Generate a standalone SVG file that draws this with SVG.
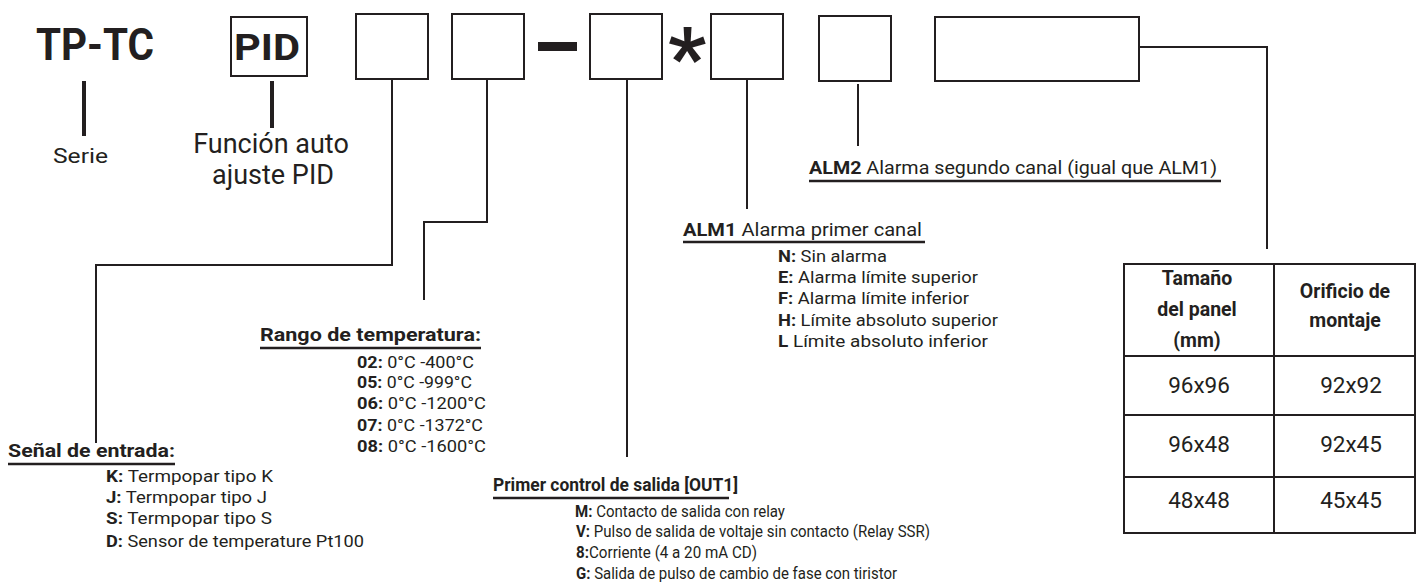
<svg xmlns="http://www.w3.org/2000/svg" width="1416" height="583" viewBox="0 0 1416 583">
<style>
text{font-family:Roboto,"Liberation Sans",sans-serif;fill:#231f20}
.b{font-weight:bold}
.box{fill:#fff;stroke:#231f20;stroke-width:2}
.ln{fill:none;stroke:#231f20;stroke-width:2}
.thick{fill:none;stroke:#231f20;stroke-width:4}
.ul{stroke:#231f20;stroke-width:2.5}
.it{font-size:16.5px}
.hd{font-size:19px;font-weight:bold}
.th{font-size:19.5px;font-weight:bold;text-anchor:middle}
.td{font-size:22.5px;text-anchor:middle}
</style>
<rect width="1416" height="583" fill="#fff"/>
<g id="series">
<text x="36" y="60" class="b" font-size="45" textLength="118" lengthAdjust="spacingAndGlyphs">TP-TC</text>
<text x="53" y="163" font-size="20" textLength="55" lengthAdjust="spacingAndGlyphs">Serie</text>
</g>
<g id="pid">
<rect class="box" x="231" y="17" width="76" height="59"/>
<text x="234" y="60" class="b" font-size="36" textLength="66" lengthAdjust="spacingAndGlyphs">PID</text>
<text x="271" y="153" font-size="27" text-anchor="middle">Función auto</text>
<text x="273" y="184" font-size="27" text-anchor="middle">ajuste PID</text>
</g>
<g id="box-input"><rect class="box" x="356" y="14" width="72" height="65"/></g>
<g id="box-range"><rect class="box" x="452" y="14" width="72" height="65"/></g>
<g id="dash"><rect x="538" y="42" width="39" height="9" fill="#231f20"/></g>
<g id="box-out1"><rect class="box" x="590" y="14" width="72" height="65"/></g>
<g id="asterisk"><text x="687" y="86" class="b" font-size="84" text-anchor="middle">*</text></g>
<g id="box-alm1"><rect class="box" x="711" y="14" width="72" height="65"/></g>
<g id="box-alm2"><rect class="box" x="819" y="16" width="72" height="65"/></g>
<g id="box-size"><rect class="box" x="935" y="17" width="204" height="64"/></g>

<g id="connectors">
<line class="thick" x1="84" y1="81" x2="84" y2="136"/>
<line class="thick" x1="272" y1="81" x2="272" y2="128"/>
<polyline class="ln" points="392,79 392,265 96,265 96,443"/>
<polyline class="ln" points="487,79 487,222 424,222 424,300"/>
<line class="ln" x1="627" y1="79" x2="627" y2="457"/>
<line class="ln" x1="747" y1="79" x2="747" y2="209"/>
<line class="ln" x1="858" y1="84" x2="858" y2="146"/>
<polyline class="ln" points="1139,47 1267,47 1267,249"/>
</g>

<g id="senal">
<text x="8" y="457" class="hd" textLength="167" lengthAdjust="spacingAndGlyphs">Señal de entrada:</text>
<line class="ul" x1="8" y1="464" x2="175" y2="464"/>
<text x="106" y="482" class="it" textLength="167" lengthAdjust="spacingAndGlyphs"><tspan class="b">K:</tspan> Termpopar tipo K</text>
<text x="106" y="503" class="it" textLength="161" lengthAdjust="spacingAndGlyphs"><tspan class="b">J:</tspan> Termpopar tipo J</text>
<text x="106" y="524" class="it" textLength="166" lengthAdjust="spacingAndGlyphs"><tspan class="b">S:</tspan> Termpopar tipo S</text>
<text x="106" y="547" class="it" textLength="258" lengthAdjust="spacingAndGlyphs"><tspan class="b">D:</tspan> Sensor de temperature Pt100</text>
</g>

<g id="rango">
<text x="260" y="341" class="hd" textLength="221" lengthAdjust="spacingAndGlyphs">Rango de temperatura:</text>
<line class="ul" x1="260" y1="348" x2="481" y2="348"/>
<text x="357" y="368" class="it" textLength="117" lengthAdjust="spacingAndGlyphs"><tspan class="b">02:</tspan> 0°C -400°C</text>
<text x="357" y="388" class="it" textLength="115" lengthAdjust="spacingAndGlyphs"><tspan class="b">05:</tspan> 0°C -999°C</text>
<text x="357" y="409" class="it" textLength="129" lengthAdjust="spacingAndGlyphs"><tspan class="b">06:</tspan> 0°C  -1200°C</text>
<text x="357" y="431" class="it" textLength="126" lengthAdjust="spacingAndGlyphs"><tspan class="b">07:</tspan> 0°C  -1372°C</text>
<text x="357" y="452" class="it" textLength="129" lengthAdjust="spacingAndGlyphs"><tspan class="b">08:</tspan> 0°C  -1600°C</text>
</g>

<g id="out1">
<text x="493" y="491" class="hd" textLength="245" lengthAdjust="spacingAndGlyphs">Primer control de salida [OUT1]</text>
<line class="ul" x1="493" y1="498" x2="729" y2="498"/>
<text x="575" y="517" class="it" textLength="210" lengthAdjust="spacingAndGlyphs"><tspan class="b">M:</tspan> Contacto de salida con relay</text>
<text x="576" y="537" class="it" textLength="354" lengthAdjust="spacingAndGlyphs"><tspan class="b">V:</tspan> Pulso de salida de voltaje sin contacto (Relay SSR)</text>
<text x="576" y="558" class="it" textLength="181" lengthAdjust="spacingAndGlyphs"><tspan class="b">8:</tspan>Corriente (4 a 20 mA CD)</text>
<text x="576" y="579" class="it" textLength="321" lengthAdjust="spacingAndGlyphs"><tspan class="b">G:</tspan> Salida de pulso de cambio de fase con tiristor</text>
</g>

<g id="alm1">
<text x="683" y="236" font-size="19" textLength="239" lengthAdjust="spacingAndGlyphs"><tspan class="b">ALM1</tspan> Alarma primer canal</text>
<line class="ul" x1="683" y1="242" x2="925" y2="242"/>
<text x="778" y="262" class="it" textLength="109" lengthAdjust="spacingAndGlyphs"><tspan class="b">N:</tspan> Sin alarma</text>
<text x="778" y="283" class="it" textLength="200" lengthAdjust="spacingAndGlyphs"><tspan class="b">E:</tspan> Alarma límite superior</text>
<text x="778" y="304" class="it" textLength="191" lengthAdjust="spacingAndGlyphs"><tspan class="b">F:</tspan> Alarma límite inferior</text>
<text x="778" y="326" class="it" textLength="220" lengthAdjust="spacingAndGlyphs"><tspan class="b">H:</tspan> Límite absoluto superior</text>
<text x="778" y="347" class="it" textLength="210" lengthAdjust="spacingAndGlyphs"><tspan class="b">L</tspan>   Límite absoluto inferior</text>
</g>

<g id="alm2">
<text x="809" y="174" font-size="19" textLength="408" lengthAdjust="spacingAndGlyphs"><tspan class="b">ALM2</tspan> Alarma segundo canal (igual que ALM1)</text>
<line class="ul" x1="809" y1="181" x2="1221" y2="181"/>
</g>

<g id="table">
<rect class="box" x="1124" y="264" width="291" height="269"/>
<line class="ln" x1="1274" y1="264" x2="1274" y2="533"/>
<line class="ln" x1="1124" y1="356" x2="1415" y2="356"/>
<line class="ln" x1="1124" y1="415" x2="1415" y2="415"/>
<line class="ln" x1="1124" y1="477" x2="1415" y2="477"/>
<text x="1197" y="285" class="th">Tamaño</text>
<text x="1197" y="316" class="th">del panel</text>
<text x="1197" y="347" class="th">(mm)</text>
<text x="1345" y="298" class="th">Orificio de</text>
<text x="1345" y="327" class="th">montaje</text>
<text x="1199" y="393" class="td">96x96</text>
<text x="1351" y="393" class="td">92x92</text>
<text x="1199" y="452" class="td">96x48</text>
<text x="1351" y="452" class="td">92x45</text>
<text x="1199" y="508" class="td">48x48</text>
<text x="1351" y="508" class="td">45x45</text>
</g>
</svg>
